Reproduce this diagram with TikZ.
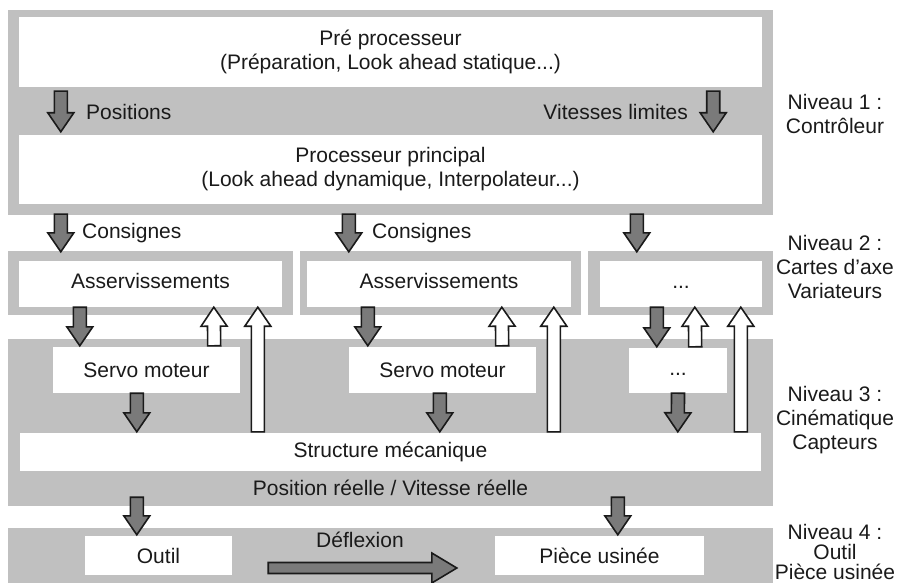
\documentclass[tikz,border=0pt]{standalone}
\usepackage{fontspec}
\setmainfont{Liberation Sans}
\usetikzlibrary{calc}
\definecolor{fond}{HTML}{C0C0C0}
\definecolor{plein}{HTML}{7A7A7A}
\definecolor{trait}{HTML}{1A1A1A}
% block arrow from #2 to #3
\newcommand{\fs}{6.5pt}
\newcommand{\fh}{13pt}
\newcommand{\ft}{19pt}
\newcommand{\fleche}[3][down]{%
  \path[#1] let \p1=($(#3)-(#2)$), \n1={atan2(\y1,\x1)}, \n2={veclen(\x1,\y1)} in
    [shift={(#2)},rotate=\n1]
    (0pt,-\fs) -- ({\n2*1pt-\ft},-\fs) -- ({\n2*1pt-\ft},-\fh) -- ({\n2*1pt},0pt)
    -- ({\n2*1pt-\ft},\fh) -- ({\n2*1pt-\ft},\fs) -- (0pt,\fs) -- cycle;}
\begin{document}
\begin{tikzpicture}
	[x=1pt,y=-1pt,
	panel/.style={fill=fond,inner sep=0pt},
	box/.style={fill=white,inner sep=0pt,align=center},
	lbl/.style={inner sep=0pt,align=center},
	down/.style={fill=plein,draw=trait,line width=1.6pt,line join=miter},
	up/.style={fill=white,draw=trait,line width=1.6pt,line join=miter},
	every node/.style={text=trait,font=\fontsize{21}{24}\selectfont}]
	\useasboundingbox (0,0) rectangle (903,583);
	% niveau 1
	\node[panel,minimum width=765pt,minimum height=205pt,name=niv1] at (390.5,112.5) {};
	\node[box,minimum width=743pt,minimum height=70pt,name=pre] at (390.5,52) {Pré processeur\\(Préparation, Look ahead statique...)};
	\node[box,minimum width=743pt,minimum height=69pt,name=main] at (390.5,169.5) {Processeur principal\\(Look ahead dynamique, Interpolateur...)};
	\node[lbl,anchor=west,name=pos] at (86,112) {Positions};
	\node[lbl,anchor=east,name=vit] at (688,112) {Vitesses limites};
	% niveau 2
	\node[panel,minimum width=285pt,minimum height=64pt,name=as1] at (150.5,283) {};
	\node[panel,minimum width=281pt,minimum height=64pt,name=as2] at (440.5,283) {};
	\node[panel,minimum width=185pt,minimum height=64pt,name=as3] at (680.5,283) {};
	\node[box,minimum width=263pt,minimum height=46pt,name=a1] at (150.5,284) {\strut Asservissements};
	\node[box,minimum width=264pt,minimum height=46pt,name=a2] at (439,284) {\strut Asservissements};
	\node[box,minimum width=162pt,minimum height=46pt,name=a3] at (681,284) {\strut ...};
	\node[lbl,anchor=west,name=cons1] at (82,233) {Consignes};
	\node[lbl,anchor=west,name=cons2] at (372,233) {Consignes};
	% niveau 3
	\node[panel,minimum width=765pt,minimum height=167pt,name=niv3] at (390.5,422.5) {};
	\node[box,minimum width=187pt,minimum height=46pt,name=s1] at (146.5,370) {Servo moteur};
	\node[box,minimum width=187pt,minimum height=46pt,name=s2] at (442.5,370) {Servo moteur};
	\node[box,minimum width=98pt,minimum height=45pt,name=s3] at (678,370.5) {\strut ...};
	\node[box,minimum width=741pt,minimum height=38pt,name=struct] at (390.5,452) {Structure mécanique};
	\node[lbl,name=reel] at (390.5,488) {Position réelle / Vitesse réelle};
	% niveau 4
	\node[panel,minimum width=765pt,minimum height=55pt,name=niv4] at (390.5,555.5) {};
	\node[box,minimum width=147pt,minimum height=39pt,name=outil] at (158.5,555.5) {Outil};
	\node[box,minimum width=209pt,minimum height=39pt,name=piece] at (599.5,555.5) {Pièce usinée};
	\node[lbl,name=defl] at (360,540) {Déflexion};
	% niveaux
	\node[lbl,name=n1] at (835,113.5) {Niveau 1 :\\Contrôleur};
	\node[lbl,name=n2] at (835,266.5) {Niveau 2 :\\Cartes d'axe\\Variateurs};
	\node[lbl,name=n3] at (835,420) {Niveau 3 :\\Cinématique\\Capteurs};
	\node[lbl,font=\fontsize{21}{20}\selectfont,name=n4] at (835,552) {Niveau 4 :\\Outil\\Pièce usinée};
	% fleches descendantes
	\fleche{[xshift=42pt,yshift=-4pt]pre.south west}{[xshift=42pt,yshift=3pt]main.north west}
	\fleche{[xshift=-49pt,yshift=-4pt]pre.south east}{[xshift=-49pt,yshift=3pt]main.north east}
	\fleche{[xshift=53pt,yshift=1pt]niv1.south west}{[xshift=53pt,yshift=-1pt]as1.north west}
	\fleche{[xshift=341pt,yshift=1pt]niv1.south west}{[xshift=49pt,yshift=-1pt]as2.north west}
	\fleche{[xshift=629pt,yshift=1pt]niv1.south west}{[xshift=49pt,yshift=-1pt]as3.north west}
	\fleche{[xshift=61pt]a1.south west}{[xshift=27pt,yshift=1pt]s1.north west}
	\fleche{[xshift=61pt]a2.south west}{[xshift=19pt,yshift=1pt]s2.north west}
	\fleche{[xshift=57pt]a3.south west}{[xshift=28pt,yshift=1pt]s3.north west}
	\fleche{[xshift=84pt]s1.south west}{[xshift=117pt,yshift=1pt]struct.north west}
	\fleche{[xshift=91pt]s2.south west}{[xshift=420pt,yshift=1pt]struct.north west}
	\fleche{s3.south}{[xshift=658pt,yshift=1pt]struct.north west}
	\fleche{[xshift=129pt,yshift=9pt]niv3.south west}{[xshift=52pt,yshift=1pt]outil.north west}
	\fleche{[xshift=610pt,yshift=9pt]niv3.south west}{[xshift=123pt,yshift=1pt]piece.north west}
	% fleches montantes
	\fleche[up]{[xshift=-26pt,yshift=1pt]s1.north east}{[xshift=195pt]a1.south west}
	\fleche[up]{[xshift=-34pt,yshift=1pt]s2.north east}{[xshift=195pt]a2.south west}
	\fleche[up]{[xshift=-32pt,yshift=1pt]s3.north east}{[xshift=95pt]a3.south west}
	\fleche[up]{[xshift=238pt,yshift=1pt]struct.north west}{[xshift=239pt]a1.south west}
	\fleche[up]{[xshift=534pt,yshift=1pt]struct.north west}{[xshift=247pt]a2.south west}
	\fleche[up]{[xshift=721pt,yshift=1pt]struct.north west}{[xshift=141pt]a3.south west}
	% deflexion
	\renewcommand{\fs}{5.5pt}\renewcommand{\fh}{15pt}\renewcommand{\ft}{25pt}
	\fleche{[xshift=36pt,yshift=-12.5pt]outil.east}{[xshift=-38pt,yshift=-12.5pt]piece.west}
\end{tikzpicture}
\end{document}
